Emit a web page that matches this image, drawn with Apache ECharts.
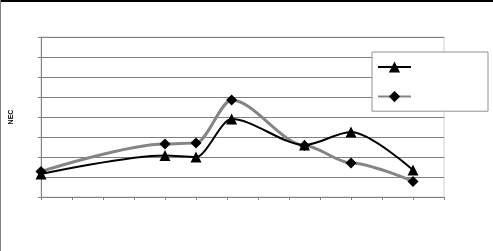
<!DOCTYPE html>
<html><head><meta charset="utf-8">
<script src="https://cdn.jsdelivr.net/npm/echarts@6/dist/echarts.min.js"></script>
<style>html,body{margin:0;padding:0;background:#fff}#c{width:493px;height:251px}</style>
</head><body><div id="c"></div>
<script>
var xValues = [0, 4, 5, 6.15, 8.5, 10, 12];
var seriesA = [1.15, 2.08, 2.0, 3.9, 2.6, 3.25, 1.35];
var seriesB = [1.27, 2.65, 2.7, 4.85, 2.58, 1.7, 0.78];
var yAxisTitle = 'NEC';
var seriesNames = ['A', 'B'];

function pairs(v){ return xValues.map(function(x,i){ return [x, v[i]]; }); }

var chart = echarts.init(document.getElementById('c'), null, {renderer:'canvas'});
chart.setOption({
  animation: false,
  backgroundColor: '#fff',
  grid: {left: 40, right: 49, top: 37, bottom: 54, show: true, borderColor: '#d0d0d0', borderWidth: 1, backgroundColor: 'transparent'},
  xAxis: {type: 'value', min: 0, max: 13, interval: 1,
    axisLine: {show: true, lineStyle: {color: '#808080', width: 1}},
    axisTick: {show: true, length: 3, lineStyle: {color: '#808080'}},
    axisLabel: {show: false}, splitLine: {show: false}},
  yAxis: {type: 'value', min: 0, max: 8, interval: 1,
    name: yAxisTitle, nameLocation: 'middle', nameRotate: 90, nameGap: 26,
    nameTextStyle: {fontSize: 7, fontWeight: 'bold', color: '#000', fontFamily: 'Liberation Sans'},
    axisLine: {show: true, lineStyle: {color: '#808080', width: 1}},
    axisTick: {show: true, length: 3, lineStyle: {color: '#808080'}},
    axisLabel: {show: false},
    splitLine: {show: true, lineStyle: {color: '#808080', width: 1}}},
  legend: {orient: 'vertical', left: 372, top: 52,
    padding: [8, 76, 9, 5], itemWidth: 33, itemHeight: 14, itemGap: 17,
    borderColor: '#909090', borderWidth: 1, backgroundColor: '#fff',
    formatter: function(){ return ''; },
    data: seriesNames},
  series: [
    {name: seriesNames[0], type: 'line', data: pairs(seriesA), smooth: 0.3, smoothMonotone: 'x',
      symbol: 'triangle', symbolSize: 11,
      lineStyle: {color: '#000', width: 2}, itemStyle: {color: '#000'}, z: 3},
    {name: seriesNames[1], type: 'line', data: pairs(seriesB), smooth: 0.3, smoothMonotone: 'x',
      symbol: 'diamond', symbolSize: 11,
      lineStyle: {color: '#858585', width: 3}, itemStyle: {color: '#000'}, z: 2}
  ],
  graphic: [
    {type: 'rect', shape: {x: 0, y: 0, width: 493, height: 2}, style: {fill: '#000'}, silent: true},
    {type: 'rect', shape: {x: 0, y: 0, width: 1, height: 251}, style: {fill: '#808080'}, silent: true}
  ]
});
</script></body></html>
